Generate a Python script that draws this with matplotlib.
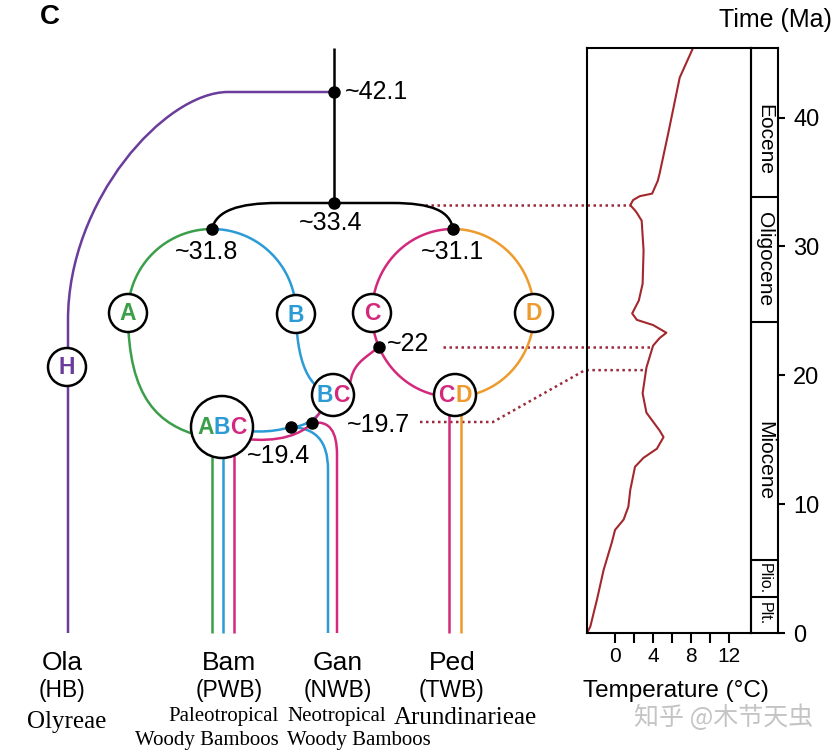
import numpy as np
import matplotlib
matplotlib.use("Agg")
import matplotlib.pyplot as plt
from matplotlib.path import Path
from matplotlib.patches import PathPatch, Circle

plt.rcParams['font.family'] = ['Liberation Sans', 'DejaVu Sans']

# ---- data ----
node_ages = ["~42.1", "~33.4", "~31.8", "~31.1", "~22", "~19.7", "~19.4"]
tribes = ["Ola", "Bam", "Gan", "Ped"]
tribe_codes = ["(HB)", "(PWB)", "(NWB)", "(TWB)"]

# global temperature curve (time in Ma, temperature in deg C)
temp_time = [0.0, 0.5, 2.6, 4.9, 7.0, 8.0, 8.8, 9.8, 11.1, 12.9, 13.6, 14.3, 15.2, 15.7,
             17.1, 18.6, 20.6, 22.3, 22.9, 23.3, 23.6, 23.9, 24.3, 24.8, 25.8, 27.1, 29.7,
             32.0, 32.6, 32.8, 33.2, 33.6, 33.9, 34.1, 35.1, 35.7, 38.8, 43.1, 45.4]
temp_c = [-2.95, -2.6, -1.9, -1.2, -0.35, 0.0, 0.9, 1.4, 1.6, 2.1, 3.0, 4.4, 5.1, 4.7,
          3.3, 2.9, 3.3, 4.0, 4.7, 5.4, 4.7, 4.0, 2.3, 1.8, 2.5, 2.9, 3.0,
          2.8, 2.3, 2.1, 1.6, 1.9, 2.6, 3.9, 4.5, 4.7, 5.6, 6.8, 8.2]

epoch_names = ["Plt.", "Plio.", "Miocene", "Oligocene", "Eocene"]
epoch_bounds = [0, 2.8, 5.66, 24.1, 33.8, 45.4]
epoch_label_at = [1.5, 4.2, 13.4, 29.0, 38.3]

# times where the dotted links meet the temperature curve
link_times = [33.25, 22.2, 20.4]

GREEN = '#3b9f4a'
BLUE = '#2b9bd6'
MAGENTA = '#d3297d'
ORANGE = '#ee9b2d'
PURPLE = '#6a3c9c'
CURVE = '#a2282e'
LINK = '#9b2a3c'
LW = 1.8

fig = plt.figure(figsize=(8.36, 7.52), dpi=100)

# overlay in pixel coordinates for the schematic
ax = fig.add_axes([0, 0, 1, 1])
ax.set_xlim(0, 836)
ax.set_ylim(752, 0)
ax.axis('off')

# temperature panel
ax_t = fig.add_axes([587 / 836, (752 - 633) / 752, 164 / 836, 585 / 752])
ax_t.set_facecolor('none')
ax_t.plot(temp_c, temp_time, color=CURVE, lw=1.5)
ax_t.set_xlim(-2.95, 14.3)
ax_t.set_ylim(0, 45.4)
ax_t.set_xticks([0, 4, 8, 12])
ax_t.set_xticks([2, 6, 10], minor=True)
ax_t.set_yticks([])
ax_t.tick_params(axis='x', which='both', length=7, width=1.5, direction='out', pad=3,
                 labelsize=15)
for s in ax_t.spines.values():
    s.set_linewidth(1.5)

ax_e = fig.add_axes([751 / 836, (752 - 633) / 752, 27 / 836, 585 / 752])
ax_e.set_facecolor('none')
ax_e.set_xlim(0, 1)
ax_e.set_ylim(0, 45.4)
ax_e.set_xticks([])
ax_e.yaxis.tick_right()
ax_e.set_yticks([0, 10, 20, 30, 40])
ax_e.tick_params(axis='y', length=5, width=1.5, pad=6, labelsize=17)
for s in ax_e.spines.values():
    s.set_linewidth(1.5)
for b in epoch_bounds[1:-1]:
    ax_e.axhline(b, color='black', lw=1.5)
for name, y in zip(epoch_names, epoch_label_at):
    fs = 15 if len(name) > 5 else 11.5
    ax_e.text(0.5, y, name, rotation=270, ha='center', va='center', fontsize=fs)


def path(color, *segs, lw=LW, z=2):
    verts, codes = [], []
    for s in segs:
        if s[0] == 'M':
            verts.append(s[1]); codes.append(Path.MOVETO)
        elif s[0] == 'L':
            verts.append(s[1]); codes.append(Path.LINETO)
        else:
            verts += list(s[1:]); codes += [Path.CURVE4] * 3
    ax.add_patch(PathPatch(Path(verts, codes), fill=False, edgecolor=color, lw=lw,
                           capstyle='butt', zorder=z))


def arc(cx, cy, rx, ry, a0, a1, color):
    th = np.radians(np.linspace(a0, a1, 80))
    ax.plot(cx + rx * np.cos(th), cy - ry * np.sin(th), color=color, lw=LW, zorder=2,
            solid_capstyle='butt')


# backbone
path('black', ('M', (334, 48)), ('L', (334, 203)))
path('black', ('M', (334, 203)), ('L', (278, 203)), ('C', (238, 203), (216, 211), (212, 229)))
path('black', ('M', (334, 203)), ('L', (392, 203)), ('C', (432, 203), (450, 211), (453, 229)))
# Olyreae
path(PURPLE, ('M', (334, 92)), ('L', (228, 92)), ('C', (165, 92), (68, 200), (68, 320)),
     ('L', (68, 633)))

# left ring (A / B)
arc(212, 313, 84, 84, 90, 180, GREEN)
arc(212, 313, 84, 84, 90, 0, BLUE)
path(GREEN, ('M', (128, 313)), ('C', (128, 400), (160, 425), (200, 436)))
path(BLUE, ('M', (296, 313)), ('C', (297, 375), (315, 390), (333, 395)))

# right ring (C / D)
arc(453, 313, 81, 84, 90, 270, MAGENTA)
arc(453, 313, 81, 84, 90, -90, ORANGE)

# hybrid links
path(MAGENTA, ('M', (379, 347)), ('C', (362, 360), (352, 365), (350, 385)))
path(BLUE, ('M', (333, 395)), ('C', (320, 418), (305, 427), (291, 427)))
path(BLUE, ('M', (222, 427)), ('C', (250, 433), (270, 433), (291, 427)))
path(BLUE, ('M', (291, 427)), ('C', (315, 428), (328, 440), (328, 470)), ('L', (328, 633)))
path(MAGENTA, ('M', (333, 395)), ('L', (312, 423)))
path(MAGENTA, ('M', (230, 437)), ('C', (265, 443), (295, 440), (312, 423)))
path(MAGENTA, ('M', (312, 423)), ('C', (330, 420), (337, 432), (337, 455)), ('L', (337, 633)))

# terminal stems
for x, c in [(212, GREEN), (223, BLUE), (234, MAGENTA)]:
    path(c, ('M', (x, 440)), ('L', (x, 633)))
for x, c in [(449, MAGENTA), (461, ORANGE)]:
    path(c, ('M', (x, 400)), ('L', (x, 633)))

# dated nodes
node_xy = [(334, 92), (334, 203), (212, 229), (453, 229), (379, 347), (312, 423), (291, 427)]
label_xy = [(345, 92, 'left'), (331, 223, 'center'), (207, 252, 'center'),
            (452, 252, 'center'), (387, 344, 'left'), (347, 425, 'left'),
            (247, 456, 'left')]
for (x, y), lab, (tx, ty, ha) in zip(node_xy, node_ages, label_xy):
    ax.plot(x, y, 'o', color='black', ms=8, zorder=6)
    ax.text(tx, ty, lab, ha=ha, va='center', fontsize=18, zorder=7)

# lineage circles
circles = [((67, 367), 19, [("H", PURPLE)]),
           ((128, 313), 19, [("A", GREEN)]),
           ((296, 314), 19, [("B", BLUE)]),
           ((372, 313), 19, [("C", MAGENTA)]),
           ((534, 313), 19, [("D", ORANGE)]),
           ((333, 395), 21, [("B", BLUE), ("C", MAGENTA)]),
           ((455, 395), 21, [("C", MAGENTA), ("D", ORANGE)]),
           ((222, 427), 31, [("A", GREEN), ("B", BLUE), ("C", MAGENTA)])]
fs_c = 16.5
w = 0.722 * fs_c * 100 / 72
for (cx, cy), r, letters in circles:
    ax.add_patch(Circle((cx, cy), r, facecolor='white', edgecolor='black', lw=LW, zorder=5))
    n = len(letters)
    for i, (ch, col) in enumerate(letters):
        ax.text(cx + (i - (n - 1) / 2) * w, cy + 1, ch, color=col, fontsize=fs_c,
                fontweight='bold', ha='center', va='center', zorder=6)

# dotted links to the temperature curve
to_px = lambda p: ax.transData.inverted().transform(ax_t.transData.transform(p))
starts = [[(425, None)], [(443, None)], [(420, 422), (493, 422), (585, None)]]
for t, pts in zip(link_times, starts):
    end = to_px((np.interp(t, temp_time, temp_c), t))
    xs = [p[0] for p in pts] + [end[0]]
    ys = [p[1] if p[1] is not None else end[1] for p in pts] + [end[1]]
    ax.plot(xs, ys, color=LINK, lw=1.8, ls=(0, (1, 1.4)), zorder=1)

# tip labels
for x, name, code in zip([62, 229, 338, 452], tribes, tribe_codes):
    ax.text(x, 663, name, ha='center', va='center', fontsize=19)
    ax.text(x, 691, code, ha='center', va='center', fontsize=16.5)
serif = ['Liberation Serif', 'DejaVu Serif']
ax.text(67, 722, "Olyreae", ha='center', va='center', fontsize=18, family=serif)
ax.text(279, 716, "Paleotropical", ha='right', va='center', fontsize=15, family=serif)
ax.text(279, 740, "Woody Bamboos", ha='right', va='center', fontsize=15, family=serif)
ax.text(287, 716, "Neotropical", ha='left', va='center', fontsize=15, family=serif)
ax.text(287, 740, "Woody Bamboos", ha='left', va='center', fontsize=15, family=serif)
ax.text(465, 718, "Arundinarieae", ha='center', va='center', fontsize=18, family=serif)

ax.text(40, 17, "C", fontsize=20, fontweight='bold', ha='left', va='center')
ax.text(832, 20, "Time (Ma)", ha='right', va='center', fontsize=18)
ax.text(676, 691, "Temperature (°C)", ha='center', va='center', fontsize=17.5)
ax.text(724, 718, "知乎 @木节天虫", ha='center', va='center', fontsize=18, color='#c4c4c4',
        family=['Noto Sans CJK SC', 'DejaVu Sans'])

fig.savefig("out.png", dpi=100)
